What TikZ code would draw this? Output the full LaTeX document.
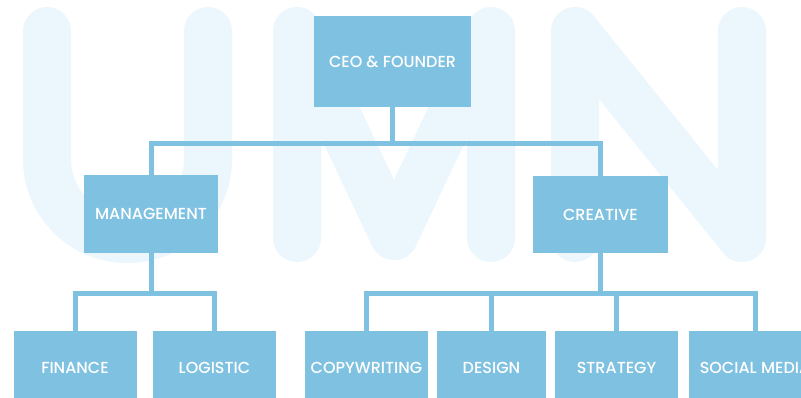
\documentclass[tikz,border=0pt]{standalone}
\usepackage{fontspec}
\setmainfont{Poppins Medium}
\usepackage{tikz}
\usetikzlibrary{calc}
\definecolor{boxblue}{RGB}{127,193,224}
\definecolor{markblue}{RGB}{236,247,253}
\tikzset{
  unit/.style={fill=boxblue, text=white, inner sep=0pt, font=\fontsize{16}{18}\selectfont},
  link/.style={draw=boxblue, line width=5pt},
  watermark/.style={draw=markblue, line width=48pt, line cap=round, line join=round}
}

\begin{document}
\begin{tikzpicture}[x=1pt,y=-1pt]
    \clip (0,0) rectangle (801,397);
    \fill[white] (0,0) rectangle (801,397);
    \draw[watermark, rounded corners=80pt] (47,31) -- (47,239) -- (208,239) -- (208,31);
    \draw[watermark] (297,238) -- (297,31) -- (394,236) -- (491,31) -- (491,238);
    \draw[watermark] (575,238) -- (575,31) -- (742,238) -- (742,31);

    \node[unit, minimum width=157pt, minimum height=91pt] (ceo) at (392.5,61.5) {CEO \& FOUNDER};
    \node[unit, minimum width=134pt, minimum height=78pt] (mgmt) at (151,214) {MANAGEMENT};
    \node[unit, minimum width=135pt, minimum height=77pt] (crea) at (600.5,214.5) {CREATIVE};
    \node[unit, minimum width=123pt, minimum height=74pt] (fin) at (75,368) {FINANCE};
    \node[unit, minimum width=123pt, minimum height=74pt] (logi) at (214.5,368) {LOGISTIC};
    \node[unit, minimum width=123pt, minimum height=74pt] (copy) at (366.5,368) {COPYWRITING};
    \node[unit, minimum width=109pt, minimum height=74pt] (design) at (491.5,368) {DESIGN};
    \node[unit, minimum width=123pt, minimum height=74pt] (strat) at (616.5,368) {STRATEGY};
    \node[unit, minimum width=132pt, minimum height=74pt] (social) at (755,368) {SOCIAL MEDIA};

    \coordinate (top) at ($(ceo.south)+(0,36)$);
    \coordinate (left) at ($(mgmt.south)+(0,40)$);
    \coordinate (right) at ($(crea.south)+(0,40)$);
    \draw[link] (ceo.south) -- (top);
    \draw[link] (mgmt.north) |- (top) -| (crea.north);
    \draw[link] (mgmt.south) -- (left);
    \draw[link] (fin.north) |- (left) -| (logi.north);
    \draw[link] (crea.south) -- (right);
    \draw[link] (copy.north) |- (right) -| (social.north);
    \draw[link] (design.north) -- (design.north |- right);
    \draw[link] (strat.north) -- (strat.north |- right);
\end{tikzpicture}
\end{document}
